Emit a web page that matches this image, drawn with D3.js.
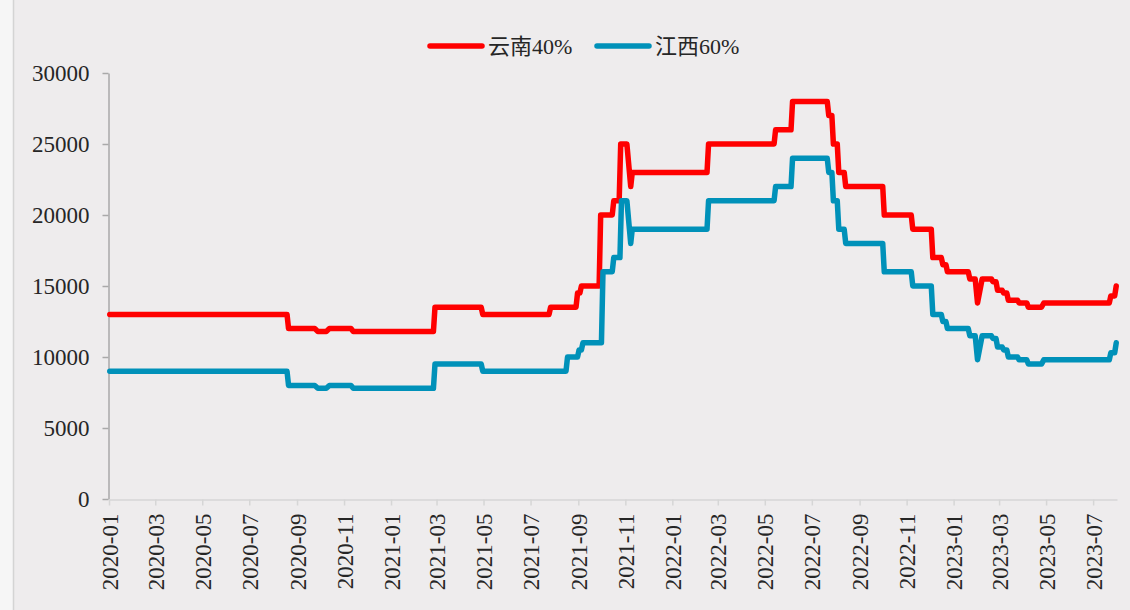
<!DOCTYPE html>
<html>
<head>
<meta charset="utf-8">
<script src="https://cdn.jsdelivr.net/npm/d3@7"></script>
<style>
  body { margin: 0; background: #f6f6f6; }
  #vis { display: block; }
  .axis text { font-family: "Liberation Serif", "Noto Sans CJK SC", serif; fill: #262626; }
</style>
</head>
<body>
<svg id="vis"></svg>
<script>
window.onload = function(){
    setup();
};

/**
 * margins of the plot area inside the 1130x610 picture
 */
const MARGINS = {top: 73, right: 13, bottom: 111, left: 109};
const WIDTH = 1130, HEIGHT = 610;

// series names
const seriesNames = ["云南40%", "江西60%"];
const seriesColors = ["#ff0000", "#0091b9"];

// y axis ticks
const yTicks = [0, 5000, 10000, 15000, 20000, 25000, 30000];

// 云南40% price, points where the line changes
const yunnanData = [
    ["2020-01-02", 13000],
    ["2020-08-19", 13000], ["2020-08-21", 12000],
    ["2020-09-24", 12000], ["2020-09-28", 11800],
    ["2020-10-09", 11800], ["2020-10-13", 12000],
    ["2020-11-10", 12000], ["2020-11-13", 11800],
    ["2021-02-25", 11800], ["2021-02-27", 13500],
    ["2021-04-28", 13500], ["2021-04-30", 13000],
    ["2021-07-25", 13000], ["2021-07-27", 13500],
    ["2021-08-29", 13500], ["2021-08-31", 14500],
    ["2021-09-03", 14500], ["2021-09-05", 15000],
    ["2021-09-28", 15000], ["2021-09-30", 20000],
    ["2021-10-15", 20000], ["2021-10-17", 21000],
    ["2021-10-24", 21000], ["2021-10-26", 25000],
    ["2021-11-03", 25000], ["2021-11-08", 22000], ["2021-11-10", 23000],
    ["2022-02-15", 23000], ["2022-02-17", 25000],
    ["2022-05-13", 25000], ["2022-05-15", 26000],
    ["2022-06-04", 26000], ["2022-06-06", 28000],
    ["2022-07-21", 28000], ["2022-07-23", 27000],
    ["2022-07-27", 27000], ["2022-07-29", 25000],
    ["2022-08-03", 25000], ["2022-08-05", 23000],
    ["2022-08-12", 23000], ["2022-08-14", 22000],
    ["2022-10-01", 22000], ["2022-10-03", 20000],
    ["2022-11-07", 20000], ["2022-11-09", 19000],
    ["2022-12-03", 19000], ["2022-12-05", 17000],
    ["2022-12-16", 17000], ["2022-12-18", 16500],
    ["2022-12-22", 16500], ["2022-12-24", 16000],
    ["2023-01-20", 16000], ["2023-01-22", 15500],
    ["2023-01-29", 15500], ["2023-02-01", 13800], ["2023-02-07", 15500],
    ["2023-02-19", 15500], ["2023-02-21", 15300],
    ["2023-02-25", 15300], ["2023-02-27", 14700],
    ["2023-03-05", 14700], ["2023-03-07", 14500],
    ["2023-03-11", 14500], ["2023-03-13", 14000],
    ["2023-03-25", 14000], ["2023-03-27", 13800],
    ["2023-04-06", 13800], ["2023-04-08", 13500],
    ["2023-04-25", 13500], ["2023-04-28", 13800],
    ["2023-07-22", 13800], ["2023-07-24", 14300],
    ["2023-07-29", 14300], ["2023-07-31", 15000]
];

// 江西60% price, points where the line changes
const jiangxiData = [
    ["2020-01-02", 9000],
    ["2020-08-19", 9000], ["2020-08-21", 8000],
    ["2020-09-24", 8000], ["2020-09-28", 7800],
    ["2020-10-09", 7800], ["2020-10-13", 8000],
    ["2020-11-10", 8000], ["2020-11-13", 7800],
    ["2021-02-25", 7800], ["2021-02-27", 9500],
    ["2021-04-28", 9500], ["2021-04-30", 9000],
    ["2021-08-16", 9000], ["2021-08-18", 10000],
    ["2021-08-31", 10000], ["2021-09-02", 10500],
    ["2021-09-05", 10500], ["2021-09-07", 11000],
    ["2021-10-01", 11000], ["2021-10-03", 16000],
    ["2021-10-15", 16000], ["2021-10-17", 17000],
    ["2021-10-25", 17000], ["2021-10-27", 21000],
    ["2021-11-03", 21000], ["2021-11-08", 18000], ["2021-11-10", 19000],
    ["2022-02-15", 19000], ["2022-02-17", 21000],
    ["2022-05-13", 21000], ["2022-05-15", 22000],
    ["2022-06-04", 22000], ["2022-06-06", 24000],
    ["2022-07-21", 24000], ["2022-07-23", 23000],
    ["2022-07-27", 23000], ["2022-07-29", 21000],
    ["2022-08-03", 21000], ["2022-08-05", 19000],
    ["2022-08-12", 19000], ["2022-08-14", 18000],
    ["2022-10-01", 18000], ["2022-10-03", 16000],
    ["2022-11-07", 16000], ["2022-11-09", 15000],
    ["2022-12-03", 15000], ["2022-12-05", 13000],
    ["2022-12-16", 13000], ["2022-12-18", 12500],
    ["2022-12-22", 12500], ["2022-12-24", 12000],
    ["2023-01-20", 12000], ["2023-01-22", 11500],
    ["2023-01-29", 11500], ["2023-02-01", 9800], ["2023-02-07", 11500],
    ["2023-02-19", 11500], ["2023-02-21", 11300],
    ["2023-02-25", 11300], ["2023-02-27", 10700],
    ["2023-03-05", 10700], ["2023-03-07", 10500],
    ["2023-03-11", 10500], ["2023-03-13", 10000],
    ["2023-03-25", 10000], ["2023-03-27", 9800],
    ["2023-04-06", 9800], ["2023-04-08", 9500],
    ["2023-04-25", 9500], ["2023-04-28", 9800],
    ["2023-07-22", 9800], ["2023-07-24", 10300],
    ["2023-07-29", 10300], ["2023-07-31", 11000]
];

// date range of the x axis
const xStart = "2020-01-01", xEnd = "2023-08-01";

let svgCanvas;

function setup(){
    let parseDate = d3.timeParse("%Y-%m-%d");

    svgCanvas = d3.select("#vis")
        .attr("width", WIDTH)
        .attr("height", HEIGHT);

    // chart background with the border on the left
    svgCanvas.append("rect")
        .attr("x", 13).attr("y", 0)
        .attr("width", WIDTH - 13).attr("height", HEIGHT)
        .attr("fill", "#eeeced");
    svgCanvas.append("line")
        .attr("x1", 13.5).attr("x2", 13.5)
        .attr("y1", 0).attr("y2", HEIGHT)
        .attr("stroke", "#d4d4d4")
        .attr("stroke-width", 1.5);

    let xScale = d3.scaleTime()
        .domain([parseDate(xStart), parseDate(xEnd)])
        .range([MARGINS.left, WIDTH - MARGINS.right]);

    let yScale = d3.scaleLinear()
        .domain([0, 30000])
        .range([HEIGHT - MARGINS.bottom, MARGINS.top]);

    // y axis
    let yAxis = svgCanvas.append("g")
        .attr("class", "axis")
        .attr("transform", "translate(" + (MARGINS.left - 0.5) + ",0)")
        .call(d3.axisLeft(yScale).tickValues(yTicks).tickFormat(d3.format("d"))
            .tickSize(6).tickPadding(13).tickSizeOuter(0));
    yAxis.select(".domain").attr("stroke", "#a9a9a9").attr("stroke-width", 1.5);
    yAxis.selectAll(".tick line").attr("stroke", "#a9a9a9").attr("stroke-width", 1.5);
    yAxis.selectAll("text").style("font-size", "23px");

    // x axis, one tick every two months
    let xTicks = d3.timeMonth.every(2).range(parseDate(xStart), parseDate("2023-07-02"));
    let xAxis = svgCanvas.append("g")
        .attr("class", "axis")
        .attr("transform", "translate(0," + (HEIGHT - MARGINS.bottom + 0.5) + ")")
        .call(d3.axisBottom(xScale).tickValues(xTicks).tickFormat(d3.timeFormat("%Y-%m")).tickSize(6).tickSizeOuter(0));
    xAxis.select(".domain").attr("stroke", "#d6d6d6").attr("stroke-width", 1.5);
    xAxis.selectAll(".tick line").attr("stroke", "#d6d6d6").attr("stroke-width", 1.5);
    xAxis.selectAll("text")
        .attr("transform", "rotate(-90)")
        .attr("x", -14)
        .attr("y", 0)
        .attr("dy", "0.35em")
        .style("text-anchor", "end")
        .style("font-size", "23px");

    // the two price lines
    let line = d3.line()
        .x(function(d) { return xScale(parseDate(d[0])); })
        .y(function(d) { return yScale(d[1]); });

    let allSeries = [yunnanData, jiangxiData];
    allSeries.forEach(function(series, i){
        svgCanvas.append("path")
            .attr("d", line(series))
            .attr("fill", "none")
            .attr("stroke", seriesColors[i])
            .attr("stroke-width", 5.5)
            .attr("stroke-linejoin", "round")
            .attr("stroke-linecap", "round");
    });

    // legend
    let legendX = [430, 597];
    seriesNames.forEach(function(name, i){
        let g = svgCanvas.append("g").attr("transform", "translate(" + legendX[i] + ",46)");
        g.append("line")
            .attr("x1", 0).attr("x2", 52)
            .attr("y1", 0).attr("y2", 0)
            .attr("stroke", seriesColors[i])
            .attr("stroke-width", 5.5)
            .attr("stroke-linecap", "round");
        g.append("text")
            .attr("x", 58)
            .attr("y", 0)
            .attr("dy", "0.35em")
            .style("font-family", "'Liberation Serif', 'Noto Sans CJK SC', serif")
            .style("font-size", "22px")
            .style("fill", "#262626")
            .text(name);
    });
}
</script>
</body>
</html>
